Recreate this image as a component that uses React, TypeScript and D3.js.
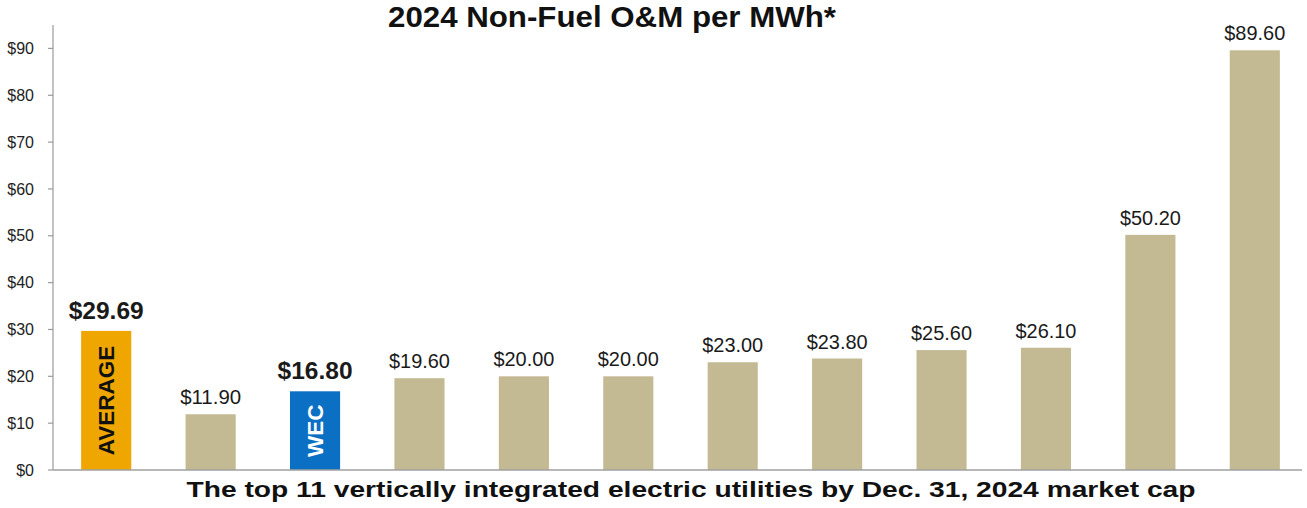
import React from "react";
import * as d3 from "d3";

const categories = ["AVERAGE", "U1", "WEC", "U3", "U4", "U5", "U6", "U7", "U8", "U9", "U10", "U11"];
const values = [29.69, 11.9, 16.8, 19.6, 20.0, 20.0, 23.0, 23.8, 25.6, 26.1, 50.2, 89.6];
const innerLabels = ["AVERAGE", "", "WEC", "", "", "", "", "", "", "", "", ""];
const yTicks = [0, 10, 20, 30, 40, 50, 60, 70, 80, 90];
const title = "2024 Non-Fuel O&M per MWh*";
const xTitle = "The top 11 vertically integrated electric utilities by Dec. 31, 2024 market cap";

const W = 1307;
const H = 508;
const FONT = "'Liberation Sans', Arial, Helvetica, sans-serif";

const colorFor = (c: string) =>
  c === "AVERAGE" ? "#EFA600" : c === "WEC" ? "#0B6FC3" : "#C3BA94";

export default function App() {
  const x = d3.scaleBand<string>().domain(categories).range([54, 1307]).paddingInner(0.52).paddingOuter(0.26);
  const y = d3.scaleLinear().domain([0, 95]).range([470, 25]);
  const axisX = 53;

  return (
    <svg width={W} height={H} style={{ position: "absolute", left: 0, top: 0, background: "#fff" }} fontFamily={FONT}>
      <rect x={0} y={0} width={W} height={H} fill="#fff" />
      <text x={612} y={27} textAnchor="middle" fontSize={29} fontWeight="bold" fill="#111" textLength={448} lengthAdjust="spacingAndGlyphs">
        {title}
      </text>
      {/* y axis */}
      <line x1={axisX} x2={axisX} y1={y(95)} y2={y(0)} stroke="#9a9a9a" strokeWidth={1.2} />
      {yTicks.map((t) => (
        <g key={t}>
          <line x1={axisX - 5} x2={axisX} y1={y(t)} y2={y(t)} stroke="#9a9a9a" strokeWidth={1.2} />
          <text x={34} y={y(t)} dy="0.35em" textAnchor="end" fontSize={16} fill="#222">
            {"$" + t}
          </text>
        </g>
      ))}
      {/* bars */}
      {categories.map((c, i) => {
        const bx = x(c)!;
        const bw = x.bandwidth();
        const top = y(values[i]);
        const cx = bx + bw / 2;
        const special = c === "AVERAGE" || c === "WEC";
        const label = "$" + values[i].toFixed(2);
        return (
          <g key={c}>
            <rect x={bx} y={top} width={bw} height={y(0) - top} fill={colorFor(c)} />
            <text
              x={cx}
              y={top - (special ? 12 : 10)}
              textAnchor="middle"
              fontSize={special ? 24 : 20.5}
              fontWeight={special ? "bold" : "normal"}
              fill="#1a1a1a"
              textLength={special ? 75 : 61}
              lengthAdjust="spacingAndGlyphs"
            >
              {label}
            </text>
            {innerLabels[i] && (
              <text
                transform={`translate(${cx},${(top + y(0)) / 2}) rotate(-90)`}
                textAnchor="middle"
                dy="0.36em"
                fontSize={22.5}
                fontWeight="bold"
                fill={c === "WEC" ? "#fff" : "#111"}
              >
                {innerLabels[i]}
              </text>
            )}
          </g>
        );
      })}
      {/* baseline */}
      <line x1={axisX} x2={1302} y1={y(0)} y2={y(0)} stroke="#a0a0a0" strokeWidth={1.5} />
      <text x={691} y={497} textAnchor="middle" fontSize={22.5} fontWeight="bold" fill="#111" textLength={1009} lengthAdjust="spacingAndGlyphs">
        {xTitle}
      </text>
    </svg>
  );
}
